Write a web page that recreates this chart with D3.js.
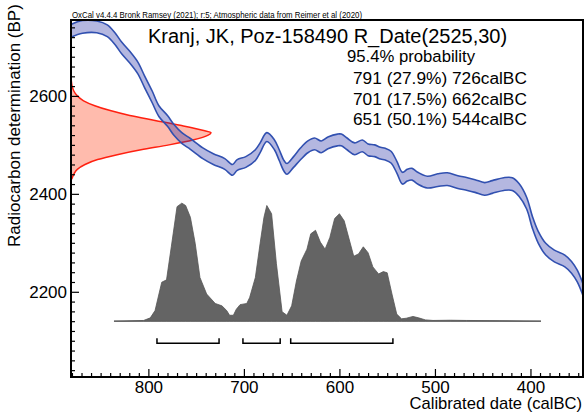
<!DOCTYPE html>
<html>
<head>
<meta charset="utf-8">
<script src="https://cdn.jsdelivr.net/npm/d3@7"></script>
<style>
  body { margin: 0; background: #fff; }
  svg { display: block; }
  text { font-family: "Liberation Sans", Arial, sans-serif; fill: #000; }
</style>
</head>
<body>
<div id="chart"></div>
<script>
// calibration curve (IntCal20): calendar year BC, BP mean, 1 sigma
const calYears = [881, 869, 854, 843, 835, 828, 819, 811, 804, 796, 789, 780, 773, 765, 756, 743, 732, 720, 712, 707,
  698, 688, 683, 676, 668, 663, 658, 655, 648, 641, 633, 626, 619, 612, 602, 598, 592, 584, 576, 570,
  563, 557, 552, 546, 540, 534, 529, 524, 518, 508, 497, 487, 476, 466, 458, 448, 440, 428, 419, 412,
  404, 398, 392, 384, 375, 364, 357, 351, 344];
const calBP = [2733, 2741, 2741, 2733, 2717, 2698, 2678, 2657, 2629, 2598, 2569, 2549, 2530, 2514, 2502, 2483, 2471, 2461, 2449, 2459,
  2465, 2479, 2494, 2516, 2500, 2479, 2457, 2451, 2465, 2481, 2496, 2502, 2496, 2504, 2510, 2510, 2502, 2492, 2498, 2490,
  2488, 2483, 2481, 2475, 2455, 2432, 2438, 2440, 2432, 2424, 2428, 2430, 2424, 2420, 2416, 2410, 2414, 2420, 2420, 2408,
  2381, 2342, 2312, 2287, 2273, 2263, 2250, 2232, 2199];
const calSigma = [13, 13, 12, 12, 12, 12, 12, 12, 12, 12, 11, 11, 11, 11, 11, 11, 11, 11, 11, 11,
  11, 11, 10, 9, 10, 11, 11, 11, 11, 12, 12, 12, 12, 12, 12, 12, 12, 12, 12, 12,
  12, 12, 12, 12, 12, 12, 12, 12, 12, 12, 13, 13, 13, 13, 13, 13, 13, 13, 13, 13,
  12, 12, 12, 12, 12, 12, 12, 12, 12];

// radiocarbon measurement R_Date(2525,30): BP level and relative density
const dateBP = [2632, 2620, 2610, 2600, 2590, 2580, 2570, 2560, 2550, 2540, 2530, 2525, 2520, 2510,
  2500, 2490, 2480, 2470, 2460, 2450, 2440, 2430];
const dateDensity = [0.002, 0.008, 0.02, 0.045, 0.09, 0.17, 0.28, 0.42, 0.6, 0.78, 0.94, 1.0, 0.98, 0.87,
  0.7, 0.5, 0.33, 0.19, 0.1, 0.045, 0.02, 0.005];

// calibrated probability, % of peak
const probYears = [836, 805, 798, 793, 786, 781, 776, 770, 765, 761, 756, 751, 746, 739, 730, 723, 718, 715, 711, 708,
  704, 697, 694, 688, 683, 679, 676, 671, 666, 660, 655, 650, 645, 640, 634, 630, 625, 620, 615, 610,
  605, 600, 595, 591, 585, 580, 575, 570, 565, 559, 554, 550, 545, 540, 535, 530, 523, 517, 510, 502,
  484, 467, 432, 389];
const probValues = [0, 0.6, 2.8, 9, 33, 35, 63, 97, 100, 98, 88, 66, 37, 23, 15, 13, 9, 5, 5, 10,
  14, 15, 20, 37, 66, 88, 98, 91, 49, 8, 5, 13, 34, 51, 61, 74, 77, 67, 61, 71,
  87, 91, 85, 73, 55, 57, 63, 58, 46, 40, 42, 41, 23, 6, 2, 2.5, 4, 2.8, 1.1, 0.6,
  0.8, 0.6, 0.4, 0];

// 95.4% ranges
const rangeFrom = [791, 701, 651];
const rangeTo = [726, 662, 544];
const rangePct = ["27.9", "17.5", "50.1"];

const xMajorTicks = [800, 700, 600, 500, 400];
const yMajorTicks = [2200, 2400, 2600];

const headerText = "OxCal v4.4.4 Bronk Ramsey (2021); r:5; Atmospheric data from Reimer et al (2020)";
const titleText = "Kranj, JK, Poz-158490 R_Date(2525,30)";

(() => {
  const width = 585;
  const height = 414;
  const pl = 71, pr = 583, pt = 20, pb = 377;

  const svg = d3.select("#chart").append("svg")
    .attr("width", width)
    .attr("height", height);

  const x = d3.scaleLinear().domain([881, 345]).range([pl, pr]);
  const y = d3.scaleLinear().domain([2026, 2755]).range([pb, pt]);

  svg.append("clipPath").attr("id", "plot-clip")
    .append("rect")
    .attr("x", pl).attr("y", pt)
    .attr("width", pr - pl).attr("height", pb - pt);

  const plot = svg.append("g").attr("clip-path", "url(#plot-clip)");

  // radiocarbon date on the y axis
  const dateW = d3.scaleLinear().domain([0, 1]).range([pl, pl + 140]);
  const dateData = dateBP.map((b, i) => ({ bp: b, d: dateDensity[i] }));

  plot.append("path")
    .datum(dateData)
    .attr("fill", "rgba(255,60,20,0.35)")
    .attr("d", d3.area()
      .curve(d3.curveMonotoneY)
      .y((d) => y(d.bp))
      .x0(pl)
      .x1((d) => dateW(d.d)));

  plot.append("path")
    .datum(dateData)
    .attr("fill", "none")
    .attr("stroke", "#ff2010")
    .attr("stroke-width", 1.5)
    .attr("d", d3.line()
      .curve(d3.curveMonotoneY)
      .y((d) => y(d.bp))
      .x((d) => dateW(d.d)));

  // calibration curve band
  const calData = calYears.map((yr, i) => ({ yr, bp: calBP[i], s: calSigma[i] }));
  const calCurve = d3.curveCatmullRom.alpha(0.5);

  plot.append("path")
    .datum(calData)
    .attr("fill", "rgba(40,50,165,0.35)")
    .attr("d", d3.area()
      .curve(calCurve)
      .x((d) => x(d.yr))
      .y0((d) => y(d.bp - d.s))
      .y1((d) => y(d.bp + d.s)));

  [1, -1].forEach((k) => {
    plot.append("path")
      .datum(calData)
      .attr("fill", "none")
      .attr("stroke", "#3150b0")
      .attr("stroke-width", 1.6)
      .attr("d", d3.line()
        .curve(calCurve)
        .x((d) => x(d.yr))
        .y((d) => y(d.bp + k * d.s)));
  });

  // calibrated distribution
  const baseY = y(2140);
  const probY = d3.scaleLinear().domain([0, 100]).range([baseY, y(2381)]);
  const probData = probYears.map((yr, i) => ({ yr, p: probValues[i] }));

  plot.append("line")
    .attr("x1", x(probYears[0]))
    .attr("x2", x(probYears[probYears.length - 1]))
    .attr("y1", baseY).attr("y2", baseY)
    .attr("stroke", "#aaa")
    .attr("stroke-width", 1.5);

  plot.append("path")
    .datum(probData)
    .attr("fill", "#646464")
    .attr("stroke", "#555")
    .attr("stroke-width", 0.8)
    .attr("d", d3.area()
      .x((d) => x(d.yr))
      .y0(baseY)
      .y1((d) => probY(d.p)));

  // range brackets
  const bracketY = baseY + 22;
  rangeFrom.forEach((f, i) => {
    const x0 = x(f), x1 = x(rangeTo[i]);
    plot.append("path")
      .attr("fill", "none")
      .attr("stroke", "#000")
      .attr("stroke-width", 1.5)
      .attr("d", `M${x0},${bracketY - 5}V${bracketY}H${x1}V${bracketY - 5}`);
  });

  // axes (ticks point inside)
  const xMinor = d3.range(350, 881, 10).filter((v) => !xMajorTicks.includes(v));
  const yMinor = d3.range(2040, 2755, 20).filter((v) => !yMajorTicks.includes(v));

  const xAxisG = svg.append("g").attr("transform", `translate(0,${pb})`);
  xAxisG.call(d3.axisBottom(x).tickValues(xMinor).tickSize(-4).tickFormat(""));
  xAxisG.append("g").call(d3.axisBottom(x).tickValues(xMajorTicks).tickSize(-8).tickPadding(4)
    .tickFormat(d3.format("d")));

  const yAxisG = svg.append("g").attr("transform", `translate(${pl},0)`);
  yAxisG.call(d3.axisLeft(y).tickValues(yMinor).tickSize(-4).tickFormat(""));
  yAxisG.append("g").call(d3.axisLeft(y).tickValues(yMajorTicks).tickSize(-8).tickPadding(4)
    .tickFormat(d3.format("d")));

  svg.selectAll(".domain").remove();
  svg.selectAll(".tick line").attr("stroke", "#000").attr("stroke-width", 1.2);
  svg.selectAll(".tick text")
    .style("font-family", '"Liberation Sans", Arial, sans-serif')
    .style("font-size", "17px")
    .attr("fill", "#000");

  // frame
  svg.append("rect")
    .attr("x", pl).attr("y", pt)
    .attr("width", pr - pl).attr("height", pb - pt)
    .attr("fill", "none")
    .attr("stroke", "#000")
    .attr("stroke-width", 2);

  // texts
  svg.append("text")
    .attr("x", 72).attr("y", 17.5)
    .attr("textLength", 290)
    .attr("lengthAdjust", "spacingAndGlyphs")
    .style("font-size", "9px")
    .text(headerText);

  svg.append("text")
    .attr("x", 148).attr("y", 43)
    .style("font-size", "20px")
    .text(titleText);

  svg.append("text")
    .attr("x", 347).attr("y", 61.5)
    .style("font-size", "16.7px")
    .text("95.4% probability");

  rangeFrom.forEach((f, i) => {
    svg.append("text")
      .attr("x", 353).attr("y", 84 + i * 20.5)
      .style("font-size", "17.3px")
      .text(`${f} (${rangePct[i]}%) ${rangeTo[i]}calBC`);
  });

  svg.append("text")
    .attr("x", 582).attr("y", 409)
    .attr("text-anchor", "end")
    .style("font-size", "16.6px")
    .text("Calibrated date (calBC)");

  svg.append("text")
    .attr("transform", "translate(20,247) rotate(-90)")
    .style("font-size", "17px")
    .text("Radiocarbon determination (BP)");
})();
</script>
</body>
</html>
